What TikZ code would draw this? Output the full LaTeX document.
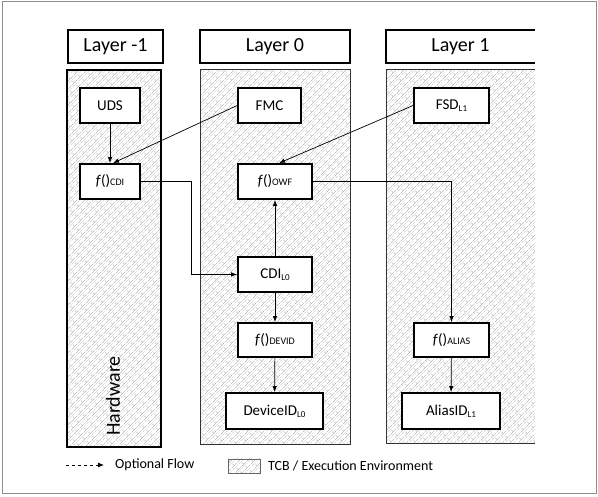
\documentclass[tikz,border=0pt]{standalone}
\usepackage{fontspec}
\setmainfont{Carlito}
\usetikzlibrary{patterns.meta, arrows.meta}

\tikzdeclarepattern{
  name=diagbricks,
  type=uncolored,
  bounding box={(0pt,0pt) and (8pt,6pt)},
  tile size={(8pt,6pt)},
  tile transformation={rotate=45},
  code={
    \draw[line width=0.45pt] (0pt,0pt) -- (8pt,0pt);
    \draw[line width=0.45pt] (0pt,3pt) -- (8pt,3pt);
    \draw[line width=0.45pt] (0pt,0pt) -- (0pt,3pt);
    \draw[line width=0.45pt] (4pt,3pt) -- (4pt,6pt);
  }
}

\newcommand{\smallsub}[1]{{\fontsize{10}{10}\selectfont #1}}
\newcommand{\lowsub}[1]{\raisebox{-0.25ex}{\fontsize{9}{9}\selectfont #1}}

\tikzset{
  hdr/.style={draw, line width=1.8pt, minimum height=33pt, font=\fontsize{20}{22}\selectfont, inner sep=0pt},
  blk/.style={draw, line width=1.8pt, fill=white, minimum height=35pt, font=\fontsize{15}{17}\selectfont, inner sep=0pt},
  flow/.style={line width=0.7pt, -{Latex[length=6pt,width=4.5pt]}},
  hatch/.style={pattern={diagbricks}, pattern color=black!35},
}

\begin{document}
\begin{tikzpicture}[x=1pt,y=-1pt]
\useasboundingbox (0,0) rectangle (598,497);
\draw[black!45, line width=1pt] (2,2) rectangle (596,494);

% columns
\path[hatch] (67,70) rectangle (161,447);
\draw[line width=1.8pt] (67,70) rectangle (161,447);
\path[hatch] (200,70) rectangle (350,445);
\draw[line width=1pt, black!80] (200,70) rectangle (350,445);
\path[hatch] (386,70) rectangle (535,444);
\draw[line width=1pt, black!80] (535,70) -- (386,70) -- (386,444) -- (535,444);

% headers
\node[hdr, minimum width=95pt] (hm1) at (115.5,46.5) {Layer -1};
\node[hdr, minimum width=150pt] (h0) at (275,46.5) {Layer 0};
\draw[line width=1.8pt] (535,30) -- (386,30) -- (386,63) -- (535,63);
\node[font=\fontsize{20}{22}\selectfont, inner sep=0pt] (h1) at (460.5,46.5) {Layer 1};

% nodes
\node[blk, minimum width=60pt] (uds) at (110,105.5) {UDS};
\node[blk, minimum width=60pt] (fcdi) at (110,181.5) {\textit{f}()\smallsub{CDI}};
\node[blk, minimum width=63pt] (fmc) at (269.5,105.5) {FMC};
\node[blk, minimum width=74pt] (fowf) at (275,181.5) {\textit{f}()\smallsub{OWF}};
\node[blk, minimum width=75pt] (fsd) at (451.5,105.5) {FSD\lowsub{L1}};
\node[blk, minimum width=74pt] (cdi) at (275,274.5) {CDI\lowsub{L0}};
\node[blk, minimum width=74pt, minimum height=34pt] (fdevid) at (275,340) {\textit{f}()\smallsub{DEVID}};
\node[blk, minimum width=97pt, minimum height=36pt] (devid) at (274.5,411) {DeviceID\lowsub{L0}};
\node[blk, minimum width=75pt, minimum height=34pt] (falias) at (451.5,340) {\textit{f}()\smallsub{ALIAS}};
\node[blk, minimum width=98pt, minimum height=36pt] (alias) at (451,411) {AliasID\lowsub{L1}};

\node[rotate=90, font=\fontsize{20}{22}\selectfont, inner sep=0pt] (hw) at (113,396) {Hardware};

% connectors
\draw[flow] (uds) -- (fcdi);
\draw[flow] (fmc.west) -- ([xshift=3pt]fcdi.north);
\draw[flow] (fsd.west) -- ([xshift=4pt]fowf.north);
\draw[flow] (fcdi.east) -- ++(50,0) |- (cdi.west);
\draw[flow] (cdi) -- (fowf);
\draw[flow] (fowf.east) -| (falias.north);
\draw[flow] (cdi) -- (fdevid);
\draw[flow] (fdevid) -- (devid);
\draw[flow] (falias) -- (alias);

% legend
\coordinate (la) at (66,465);
\coordinate (lb) at (104,465);
\draw[line width=0.9pt, dashed, -{Latex[length=6pt,width=5pt]}] (la) -- (lb);
\node[anchor=west, font=\fontsize{14}{16}\selectfont, inner sep=0pt] (lt1) at (115,465) {Optional Flow};
\path[hatch] (228,459) rectangle (260,473);
\draw[line width=0.8pt, black!60] (228,459) rectangle (260,473);
\node[anchor=west, font=\fontsize{14}{16}\selectfont, inner sep=0pt] (lt2) at (268,466) {TCB / Execution Environment};
\end{tikzpicture}
\end{document}
